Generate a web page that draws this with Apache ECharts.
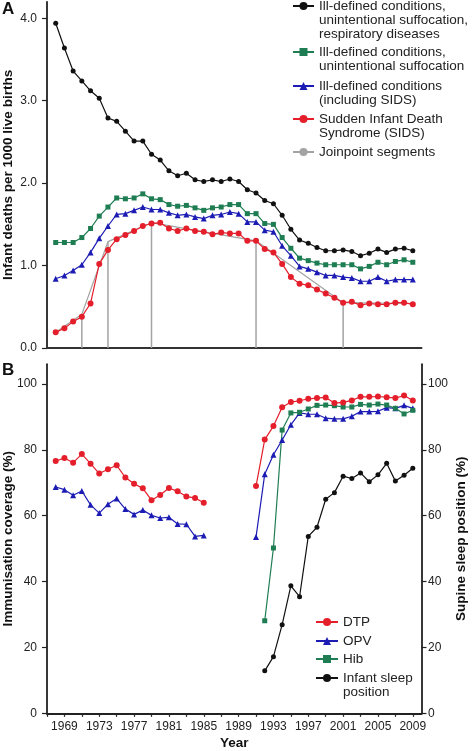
<!DOCTYPE html>
<html><head><meta charset="utf-8">
<script src="https://cdn.jsdelivr.net/npm/echarts@6/dist/echarts.min.js"></script>
<style>html,body{margin:0;padding:0;background:#fff}#c{width:472px;height:751px}</style>
</head><body><div id="c"></div>
<script>
// ---------- Panel A data ----------
const yearsA = [1968,1969,1970,1971,1972,1973,1974,1975,1976,1977,1978,1979,1980,1981,1982,1983,1984,1985,1986,1987,1988,1989,1990,1991,1992,1993,1994,1995,1996,1997,1998,1999,2000,2001,2002,2003,2004,2005,2006,2007,2008,2009];
const respA = [3.94,3.64,3.36,3.24,3.12,3.03,2.79,2.75,2.63,2.51,2.51,2.35,2.28,2.15,2.09,2.12,2.04,2.02,2.04,2.02,2.05,2.02,1.92,1.88,1.79,1.75,1.61,1.44,1.31,1.27,1.22,1.18,1.18,1.19,1.17,1.12,1.15,1.20,1.16,1.20,1.21,1.18];
const suffA = [1.28,1.28,1.28,1.34,1.45,1.60,1.71,1.82,1.81,1.82,1.87,1.81,1.80,1.74,1.72,1.73,1.70,1.67,1.70,1.71,1.74,1.74,1.63,1.63,1.51,1.50,1.34,1.21,1.09,1.06,1.03,1.01,1.01,1.01,1.01,0.96,0.99,1.04,1.01,1.05,1.07,1.04];
const illA = [0.84,0.88,0.94,1.01,1.16,1.33,1.48,1.62,1.63,1.67,1.71,1.68,1.68,1.64,1.61,1.62,1.59,1.57,1.61,1.62,1.65,1.63,1.53,1.53,1.43,1.41,1.24,1.12,0.99,0.96,0.92,0.88,0.88,0.86,0.85,0.81,0.81,0.86,0.81,0.83,0.83,0.83];
const sidsA = [0.19,0.24,0.32,0.38,0.54,1.02,1.19,1.32,1.37,1.42,1.48,1.51,1.52,1.45,1.42,1.45,1.42,1.41,1.38,1.40,1.39,1.39,1.30,1.30,1.20,1.16,1.02,0.86,0.78,0.76,0.71,0.66,0.61,0.55,0.56,0.52,0.54,0.53,0.53,0.55,0.55,0.53];
const joinYears = [1968,1971,1974,1979,1991,2001,2009];
const joinValues = [0.19,0.41,1.29,1.52,1.30,0.55,0.54];
const joinDropYears = [1971,1974,1979,1991,2001];
const ticksA = [0,1,2,3,4];

// ---------- Panel B data ----------
const yearsB = yearsA;
const dtpB = [76.6,77.5,76.1,78.7,75.8,72.8,74.1,75.3,71.6,69.7,68.3,64.7,66.3,68.4,67.4,65.8,65.4,63.9,null,null,null,null,null,69.0,83.1,87.2,92.9,94.5,94.9,95.5,95.7,95.9,94.2,94.4,95.0,96.1,96.1,96.2,96.0,95.7,96.5,95.0];
const opvB = [68.7,67.9,66.2,67.5,63.3,60.8,63.5,65.2,62.0,60.4,61.7,60.1,59.3,59.5,57.5,57.4,53.7,54.0,null,null,null,null,null,53.5,72.6,78.5,83.0,87.6,91.2,90.8,90.8,89.6,89.4,89.4,90.2,91.6,91.6,91.7,92.8,92.6,93.5,92.6];
const hibB = [null,null,null,null,null,null,null,null,null,null,null,null,null,null,null,null,null,null,null,null,null,null,null,null,28.1,50.2,86.0,91.2,91.4,92.4,93.5,93.6,93.4,93.0,93.0,93.8,93.6,93.9,93.6,92.6,90.9,92.0];
const sleepB = [null,null,null,null,null,null,null,null,null,null,null,null,null,null,null,null,null,null,null,null,null,null,null,null,12.9,17.2,26.9,38.7,35.4,53.7,56.5,65.0,67.0,72.0,71.3,73.0,70.3,72.4,75.9,70.5,72.3,74.4];
const ticksB = [0,20,40,60,80,100];
const yearTicks = [1967,1969,1971,1973,1975,1977,1979,1981,1983,1985,1987,1989,1991,1993,1995,1997,1999,2001,2003,2005,2007,2009];
const yearLabels = [1969,1973,1977,1981,1985,1989,1993,1997,2001,2005,2009];

// ---------- names ----------
const nA1 = 'Ill-defined conditions,\nunintentional suffocation,\nrespiratory diseases';
const nA2 = 'Ill-defined conditions,\nunintentional suffocation';
const nA3 = 'Ill-defined conditions\n(including SIDS)';
const nA4 = 'Sudden Infant Death\nSyndrome (SIDS)';
const nA5 = 'Joinpoint segments';
const nB1 = 'DTP', nB2 = 'OPV', nB3 = 'Hib', nB4 = 'Infant sleep\nposition';

const FONT = '"Liberation Sans", Arial, sans-serif';
const C_BLACK = '#111111', C_GREEN = '#1e7d52', C_BLUE = '#1c1cb4', C_RED = '#e41f2b', C_GREY = '#a3a3a3';
const LH = 14;

function pairs(xs, ys) { return xs.map((x, i) => [x, ys[i]]); }
// legend item whose icon lines up with the first text line:
// (n-1) empty lines are put in front so the first real line is the block's centre
function leg(name, left, cy, w) {
  const n = name.split('\n').length;
  let pre = '';
  for (let i = 1; i < n; i++) pre += '\n';
  return {
    data: [name], orient: 'vertical', left: left, top: cy - (2 * n - 1) * LH / 2, padding: 0,
    itemWidth: w, itemHeight: 10, itemGap: 0, selectedMode: false,
    formatter: function (s) { return pre + s; },
    textStyle: { fontSize: 13.5, lineHeight: LH, color: '#222', fontFamily: FONT }
  };
}
function lineSeries(name, xi, yi, xs, ys, color, symbol, size, z) {
  return {
    type: 'line', name: name, xAxisIndex: xi, yAxisIndex: yi, data: pairs(xs, ys),
    symbol: symbol, symbolSize: size, showSymbol: true, connectNulls: false, z: z,
    lineStyle: { color: color, width: 1.2 }, itemStyle: { color: color }, emphasis: { disabled: true }
  };
}

const axisLineStyle = { lineStyle: { color: '#222', width: 1.8 } };
const yLabel = { fontSize: 12, color: '#222', fontFamily: FONT };
const nameStyle = { fontSize: 13.5, fontWeight: 'bold', color: '#111', fontFamily: FONT };

const series = [];
series.push({ type: 'line', name: nA5, xAxisIndex: 0, yAxisIndex: 0, data: pairs(joinYears, joinValues),
  symbol: 'none', z: 1, lineStyle: { color: C_GREY, width: 1.2 }, itemStyle: { color: C_GREY }, emphasis: { disabled: true } });
joinDropYears.forEach(function (y) {
  const v = joinValues[joinYears.indexOf(y)];
  series.push({ type: 'line', name: nA5, xAxisIndex: 0, yAxisIndex: 0, data: [[y, 0], [y, v]],
    symbol: 'none', z: 1, lineStyle: { color: C_GREY, width: 1.5 }, itemStyle: { color: C_GREY }, emphasis: { disabled: true } });
});
series.push(lineSeries(nA1, 0, 0, yearsA, respA, C_BLACK, 'circle', 5, 2));
series.push(lineSeries(nA2, 0, 0, yearsA, suffA, C_GREEN, 'rect', 5, 2));
series.push(lineSeries(nA3, 0, 0, yearsA, illA, C_BLUE, 'triangle', 6, 2));
series.push(lineSeries(nA4, 0, 0, yearsA, sidsA, C_RED, 'circle', 6, 3));
series.push(lineSeries(nB1, 1, 1, yearsB, dtpB, C_RED, 'circle', 6, 3));
series.push(lineSeries(nB2, 1, 1, yearsB, opvB, C_BLUE, 'triangle', 6, 2));
series.push(lineSeries(nB3, 1, 1, yearsB, hibB, C_GREEN, 'rect', 5, 2));
series.push(lineSeries(nB4, 1, 2, yearsB, sleepB, C_BLACK, 'circle', 5, 2));

const option = {
  animation: false,
  backgroundColor: '#fff',
  title: [
    { text: 'A', left: 2, top: 1, padding: 0, textStyle: { fontSize: 17, fontWeight: 'bold', color: '#111', fontFamily: FONT } },
    { text: 'B', left: 2, top: 362, padding: 0, textStyle: { fontSize: 17, fontWeight: 'bold', color: '#111', fontFamily: FONT } }
  ],
  legend: [
    leg(nA1, 292, 6, 21),
    leg(nA2, 292, 52, 21),
    leg(nA3, 292, 86, 21),
    leg(nA4, 292, 119, 21),
    leg(nA5, 292, 152, 21),
    leg(nB1, 315, 622, 22),
    leg(nB2, 315, 641, 22),
    leg(nB3, 315, 659, 22),
    leg(nB4, 315, 678, 22)
  ],
  grid: [
    { left: 47, right: 50.5, top: 1.8, bottom: 403, outerBoundsMode: 'none', containLabel: false },
    { left: 47, right: 50.5, top: 364.2, bottom: 37.7, outerBoundsMode: 'none', containLabel: false }
  ],
  xAxis: [
    { type: 'value', gridIndex: 0, min: 1967, max: 2010, interval: 2,
      axisLine: { lineStyle: { color: '#333', width: 2 } }, axisTick: { show: false }, axisLabel: { show: false }, splitLine: { show: false } },
    { type: 'value', gridIndex: 1, min: 1967, max: 2010, interval: 2,
      name: 'Year', nameLocation: 'middle', nameGap: 23, nameMoveOverlap: false, nameTextStyle: nameStyle,
      axisLine: { lineStyle: { color: '#222', width: 2 } },
      axisTick: { show: true, length: 3.5, customValues: yearTicks, lineStyle: { color: '#222', width: 1.2 } },
      axisLabel: { customValues: yearLabels, fontSize: 12, color: '#222', fontFamily: FONT, margin: 7,
        formatter: function (v) { return String(v); } },
      splitLine: { show: false } }
  ],
  yAxis: [
    { type: 'value', gridIndex: 0, min: 0, max: 4.2, interval: 1,
      name: 'Infant deaths per 1000 live births', nameLocation: 'middle', nameGap: 32, nameMoveOverlap: false, nameTextStyle: nameStyle,
      axisLine: Object.assign({ show: true }, axisLineStyle),
      axisTick: { show: true, length: 5, customValues: ticksA, lineStyle: { color: '#222', width: 1.2 } },
      axisLabel: Object.assign({ customValues: ticksA, margin: 10, formatter: function (v) { return v.toFixed(1); } }, yLabel),
      splitLine: { show: false } },
    { type: 'value', gridIndex: 1, min: 0, max: 106, interval: 20,
      name: 'Immunisation coverage (%)', nameLocation: 'middle', nameGap: 32, nameMoveOverlap: false, nameTextStyle: nameStyle,
      axisLine: Object.assign({ show: true }, axisLineStyle),
      axisTick: { show: true, length: 5, customValues: ticksB, lineStyle: { color: '#222', width: 1.2 } },
      axisLabel: Object.assign({ customValues: ticksB, margin: 10 }, yLabel),
      splitLine: { show: false } },
    { type: 'value', gridIndex: 1, position: 'right', min: 0, max: 106, interval: 20,
      name: 'Supine sleep position (%)', nameLocation: 'middle', nameGap: 33, nameMoveOverlap: false, nameTextStyle: nameStyle,
      axisLine: Object.assign({ show: true }, axisLineStyle),
      axisTick: { show: true, length: 5, customValues: ticksB, lineStyle: { color: '#222', width: 1.2 } },
      axisLabel: Object.assign({ customValues: ticksB, margin: 6.5 }, yLabel),
      splitLine: { show: false } }
  ],
  series: series
};
const chart = echarts.init(document.getElementById('c'), null, { renderer: 'canvas' });
chart.setOption(option);
</script></body></html>
